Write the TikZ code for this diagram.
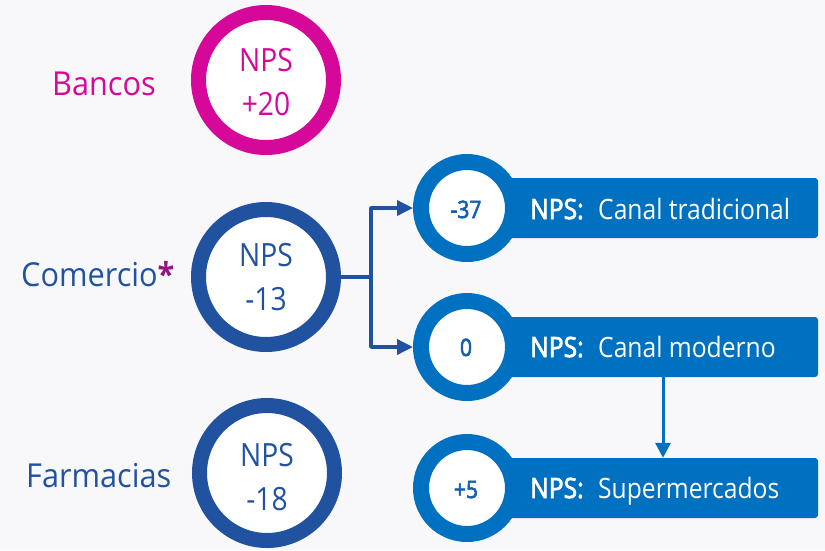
\documentclass[tikz,border=0pt]{standalone}
\usepackage{fontspec}
\setmainfont{Open Sans}[FakeStretch=0.88]
\newfontfamily\semibf{Open Sans}[FakeStretch=0.88,FakeBold=2.5]
\newfontfamily\labelf{Open Sans}[FakeStretch=0.93]
\usetikzlibrary{arrows.meta}
\definecolor{bgc}{RGB}{248,248,251}
\definecolor{mag}{RGB}{214,8,153}
\definecolor{dblue}{RGB}{33,82,160}
\definecolor{lblue}{RGB}{0,112,192}
\definecolor{numblue}{RGB}{20,95,175}
\definecolor{ast}{RGB}{150,20,130}
\begin{document}
\begin{tikzpicture}[x=1pt,y=-1pt,
  bigring/.style={circle, draw=#1, line width=15pt, fill=white, minimum size=135pt, inner sep=0pt},
  smallring/.style={circle, draw=lblue, line width=16pt, fill=white, minimum size=92pt, inner sep=0pt},
  bar/.style={rectangle, fill=lblue, rounded corners=3pt, minimum width=352pt, minimum height=60pt, inner sep=0pt},
  lbl/.style={anchor=base west, inner sep=0pt, font=\labelf\fontsize{33}{36}\selectfont},
  ringtxt/.style={anchor=base, inner sep=0pt, font=\fontsize{32}{36}\selectfont},
  num/.style={anchor=base, inner sep=0pt, text=numblue, font=\semibf\fontsize{24}{26}\selectfont},
  bartxt/.style={anchor=base west, inner sep=0pt, text=white, font=\fontsize{28}{30}\selectfont},
  barkey/.style={bartxt, font=\semibf\fontsize{28}{30}\selectfont},
  conn/.style={draw=dblue, line width=3.5pt, line join=round, -{Triangle[length=16pt,width=15pt]}},
  down/.style={draw=lblue, line width=3pt, -{Triangle[length=15pt,width=15pt]}}
]
\fill[bgc] (0,0) rectangle (825,550);
\useasboundingbox (0,0) rectangle (825,550);

% big rings
\node[bigring=mag] (ban) at (266,80) {};
\node[bigring=dblue] (com) at (266,277) {};
\node[bigring=dblue] (far) at (267,473) {};

\node[ringtxt, text=mag] (banl1) at (266,71) {NPS};
\node[ringtxt, text=mag] (banl2) at (266,115) {+20};
\node[ringtxt, text=dblue] (coml1) at (266,266) {NPS};
\node[ringtxt, text=dblue] (coml2) at (266,310) {-13};
\node[ringtxt, text=dblue] (farl1) at (267,466) {NPS};
\node[ringtxt, text=dblue] (farl2) at (267,510) {-18};

% left labels
\node[lbl, text=mag] (tban) at (52,95) {Bancos};
\node[lbl, text=dblue] (tcom) at (21,286) {Comercio\textcolor{ast}{\bfseries*}};
\node[lbl, text=dblue] (tfar) at (26,487) {Farmacias};

% bars
\node[bar] (b1) at (642,208) {};
\node[bar] (b2) at (642,347) {};
\node[bar] (b3) at (642,488) {};
\node[smallring] (c1) at (467,208) {};
\node[smallring] (c2) at (467,347) {};
\node[smallring] (c3) at (467,488) {};
\node[num] (n1) at (466,218) {-37};
\node[num] (n2) at (466,356) {0};
\node[num] (n3) at (466,498) {+5};

\node[barkey] (k1) at (530,219) {NPS:};
\node[bartxt] (d1) at (598,219) {Canal tradicional};
\node[barkey] (k2) at (530,357) {NPS:};
\node[bartxt] (d2) at (598,357) {Canal moderno};
\node[barkey] (k3) at (530,498) {NPS:};
\node[bartxt] (d3) at (598,498) {Supermercados};

% connectors
\draw[conn] (com.east) -- ++(30,0) |- (c1.west);
\draw[conn] (com.east) -- ++(30,0) |- (c2.west);
\draw[down] ([xshift=21pt]b2.south) -- ([xshift=21pt]b3.north);
\end{tikzpicture}
\end{document}
